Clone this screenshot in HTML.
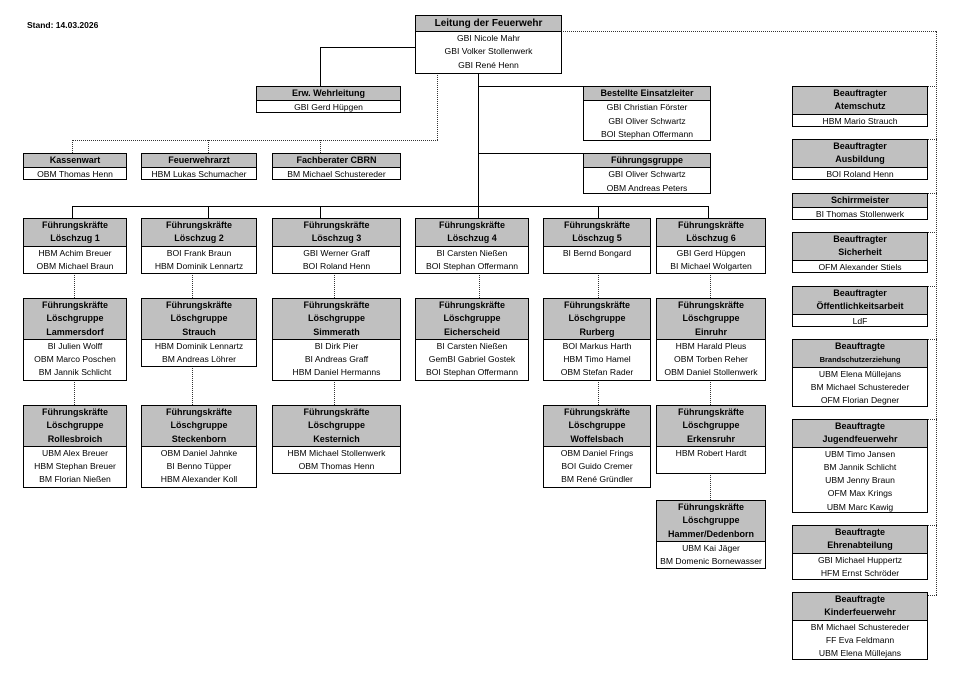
<!DOCTYPE html>
<html><head><meta charset="utf-8"><style>
body{margin:0;width:957px;height:688px;background:#fff;position:relative;overflow:hidden;font-family:"Liberation Sans",Arial,sans-serif;}
.b{position:absolute;border:1px solid #000;box-sizing:border-box;background:#fff;font-size:8.6px;text-align:center;line-height:13.3px;}
.h{background:#c0c0c0;font-weight:bold;border-bottom:1px solid #000;font-size:9px;}
.s{font-size:7.5px}
.l{position:absolute;background:#000;}
.dv{position:absolute;border-left:1px dotted #333;width:0;}
.dh{position:absolute;border-top:1px dotted #333;height:0;}
.t{position:absolute;font-size:8.5px;font-weight:bold;left:27px;top:20px;}
</style></head><body>
<div class="t">Stand: 14.03.2026</div>

<div class="l" style="left:478px;top:73px;width:1px;height:134px"></div>
<div class="l" style="left:320px;top:47px;width:96px;height:1px"></div>
<div class="l" style="left:320px;top:47px;width:1px;height:40px"></div>
<div class="l" style="left:478px;top:86px;width:106px;height:1px"></div>
<div class="l" style="left:478px;top:153px;width:106px;height:1px"></div>
<div class="l" style="left:72px;top:206px;width:637px;height:1px"></div>
<div class="l" style="left:72px;top:206px;width:1px;height:13px"></div>
<div class="l" style="left:208px;top:206px;width:1px;height:13px"></div>
<div class="l" style="left:320px;top:206px;width:1px;height:13px"></div>
<div class="l" style="left:478px;top:206px;width:1px;height:13px"></div>
<div class="l" style="left:598px;top:206px;width:1px;height:13px"></div>
<div class="l" style="left:708px;top:206px;width:1px;height:13px"></div>

<div class="dv" style="left:437px;top:73px;height:67px"></div>
<div class="dh" style="left:72px;top:140px;width:366px"></div>
<div class="dv" style="left:72px;top:140px;height:13px"></div>
<div class="dv" style="left:208px;top:140px;height:13px"></div>
<div class="dv" style="left:320px;top:140px;height:13px"></div>
<div class="dh" style="left:561px;top:31px;width:375px"></div>
<div class="dv" style="left:936px;top:31px;height:564px"></div>
<div class="dh" style="left:927px;top:595px;width:10px"></div>
<div class="dh" style="left:927px;top:86px;width:10px"></div>
<div class="dh" style="left:927px;top:139px;width:10px"></div>
<div class="dh" style="left:927px;top:193px;width:10px"></div>
<div class="dh" style="left:927px;top:232px;width:10px"></div>
<div class="dh" style="left:927px;top:286px;width:10px"></div>
<div class="dh" style="left:927px;top:339px;width:10px"></div>
<div class="dh" style="left:927px;top:419px;width:10px"></div>
<div class="dh" style="left:927px;top:525px;width:10px"></div>
<div class="dv" style="left:74px;top:273px;height:25px"></div>
<div class="dv" style="left:74px;top:380px;height:25px"></div>
<div class="dv" style="left:192px;top:273px;height:25px"></div>
<div class="dv" style="left:192px;top:366px;height:39px"></div>
<div class="dv" style="left:334px;top:273px;height:25px"></div>
<div class="dv" style="left:334px;top:380px;height:25px"></div>
<div class="dv" style="left:479px;top:273px;height:25px"></div>
<div class="dv" style="left:598px;top:273px;height:25px"></div>
<div class="dv" style="left:598px;top:380px;height:25px"></div>
<div class="dv" style="left:710px;top:273px;height:25px"></div>
<div class="dv" style="left:710px;top:380px;height:25px"></div>
<div class="dv" style="left:710px;top:473px;height:27px"></div>

<div class="b" style="left:415px;top:15px;width:147px;height:59px"><div class="h" style="font-size:10px;line-height:15px">Leitung der Feuerwehr</div>GBI Nicole Mahr<br>GBI Volker Stollenwerk<br>GBI René Henn</div>
<div class="b" style="left:256px;top:86px;width:145px;height:27px"><div class="h">Erw. Wehrleitung</div>GBI Gerd Hüpgen</div>
<div class="b" style="left:583px;top:86px;width:128px;height:55px"><div class="h">Bestellte Einsatzleiter</div>GBI Christian Förster<br>GBI Oliver Schwartz<br>BOI Stephan Offermann</div>
<div class="b" style="left:583px;top:153px;width:128px;height:41px"><div class="h">Führungsgruppe</div>GBI Oliver Schwartz<br>OBM Andreas Peters</div>
<div class="b" style="left:23px;top:153px;width:104px;height:27px"><div class="h">Kassenwart</div>OBM Thomas Henn</div>
<div class="b" style="left:141px;top:153px;width:116px;height:27px"><div class="h">Feuerwehrarzt</div>HBM Lukas Schumacher</div>
<div class="b" style="left:272px;top:153px;width:129px;height:27px"><div class="h">Fachberater CBRN</div>BM Michael Schustereder</div>

<div class="b" style="left:23px;top:218px;width:104px;height:56px"><div class="h">Führungskräfte<br>Löschzug 1</div>HBM Achim Breuer<br>OBM Michael Braun</div>
<div class="b" style="left:141px;top:218px;width:116px;height:56px"><div class="h">Führungskräfte<br>Löschzug 2</div>BOI Frank Braun<br>HBM Dominik Lennartz</div>
<div class="b" style="left:272px;top:218px;width:129px;height:56px"><div class="h">Führungskräfte<br>Löschzug 3</div>GBI Werner Graff<br>BOI Roland Henn</div>
<div class="b" style="left:415px;top:218px;width:114px;height:56px"><div class="h">Führungskräfte<br>Löschzug 4</div>BI Carsten Nießen<br>BOI Stephan Offermann</div>
<div class="b" style="left:543px;top:218px;width:108px;height:56px"><div class="h">Führungskräfte<br>Löschzug 5</div>BI Bernd Bongard</div>
<div class="b" style="left:656px;top:218px;width:110px;height:56px"><div class="h">Führungskräfte<br>Löschzug 6</div>GBI Gerd Hüpgen<br>BI Michael Wolgarten</div>

<div class="b" style="left:23px;top:298px;width:104px;height:83px"><div class="h">Führungskräfte<br>Löschgruppe<br>Lammersdorf</div>BI Julien Wolff<br>OBM Marco Poschen<br>BM Jannik Schlicht</div>
<div class="b" style="left:141px;top:298px;width:116px;height:69px"><div class="h">Führungskräfte<br>Löschgruppe<br>Strauch</div>HBM Dominik Lennartz<br>BM Andreas Löhrer</div>
<div class="b" style="left:272px;top:298px;width:129px;height:83px"><div class="h">Führungskräfte<br>Löschgruppe<br>Simmerath</div>BI Dirk Pier<br>BI Andreas Graff<br>HBM Daniel Hermanns</div>
<div class="b" style="left:415px;top:298px;width:114px;height:83px"><div class="h">Führungskräfte<br>Löschgruppe<br>Eicherscheid</div>BI Carsten Nießen<br>GemBI Gabriel Gostek<br>BOI Stephan Offermann</div>
<div class="b" style="left:543px;top:298px;width:108px;height:83px"><div class="h">Führungskräfte<br>Löschgruppe<br>Rurberg</div>BOI Markus Harth<br>HBM Timo Hamel<br>OBM Stefan Rader</div>
<div class="b" style="left:656px;top:298px;width:110px;height:83px"><div class="h">Führungskräfte<br>Löschgruppe<br>Einruhr</div>HBM Harald Pleus<br>OBM Torben Reher<br>OBM Daniel Stollenwerk</div>

<div class="b" style="left:23px;top:405px;width:104px;height:83px"><div class="h">Führungskräfte<br>Löschgruppe<br>Rollesbroich</div>UBM Alex Breuer<br>HBM Stephan Breuer<br>BM Florian Nießen</div>
<div class="b" style="left:141px;top:405px;width:116px;height:83px"><div class="h">Führungskräfte<br>Löschgruppe<br>Steckenborn</div>OBM Daniel Jahnke<br>BI Benno Tüpper<br>HBM Alexander Koll</div>
<div class="b" style="left:272px;top:405px;width:129px;height:69px"><div class="h">Führungskräfte<br>Löschgruppe<br>Kesternich</div>HBM Michael Stollenwerk<br>OBM Thomas Henn</div>
<div class="b" style="left:543px;top:405px;width:108px;height:83px"><div class="h">Führungskräfte<br>Löschgruppe<br>Woffelsbach</div>OBM Daniel Frings<br>BOI Guido Cremer<br>BM René Gründler</div>
<div class="b" style="left:656px;top:405px;width:110px;height:69px"><div class="h">Führungskräfte<br>Löschgruppe<br>Erkensruhr</div>HBM Robert Hardt</div>
<div class="b" style="left:656px;top:500px;width:110px;height:69px"><div class="h">Führungskräfte<br>Löschgruppe<br>Hammer/Dedenborn</div>UBM Kai Jäger<br>BM Domenic Bornewasser</div>

<div class="b" style="left:792px;top:86px;width:136px;height:41px"><div class="h">Beauftragter<br>Atemschutz</div>HBM Mario Strauch</div>
<div class="b" style="left:792px;top:139px;width:136px;height:41px"><div class="h">Beauftragter<br>Ausbildung</div>BOI Roland Henn</div>
<div class="b" style="left:792px;top:193px;width:136px;height:27px"><div class="h">Schirrmeister</div>BI Thomas Stollenwerk</div>
<div class="b" style="left:792px;top:232px;width:136px;height:41px"><div class="h">Beauftragter<br>Sicherheit</div>OFM Alexander Stiels</div>
<div class="b" style="left:792px;top:286px;width:136px;height:41px"><div class="h">Beauftragter<br>Öffentlichkeitsarbeit</div>LdF</div>
<div class="b" style="left:792px;top:339px;width:136px;height:68px"><div class="h">Beauftragte<br><span class="s">Brandschutzerziehung</span></div>UBM Elena Müllejans<br>BM Michael Schustereder<br>OFM Florian Degner</div>
<div class="b" style="left:792px;top:419px;width:136px;height:94px"><div class="h">Beauftragte<br>Jugendfeuerwehr</div>UBM Timo Jansen<br>BM Jannik Schlicht<br>UBM Jenny Braun<br>OFM Max Krings<br>UBM Marc Kawig</div>
<div class="b" style="left:792px;top:525px;width:136px;height:55px"><div class="h">Beauftragte<br>Ehrenabteilung</div>GBI Michael Huppertz<br>HFM Ernst Schröder</div>
<div class="b" style="left:792px;top:592px;width:136px;height:68px"><div class="h">Beauftragte<br>Kinderfeuerwehr</div>BM Michael Schustereder<br>FF Eva Feldmann<br>UBM Elena Müllejans</div>
</body></html>
